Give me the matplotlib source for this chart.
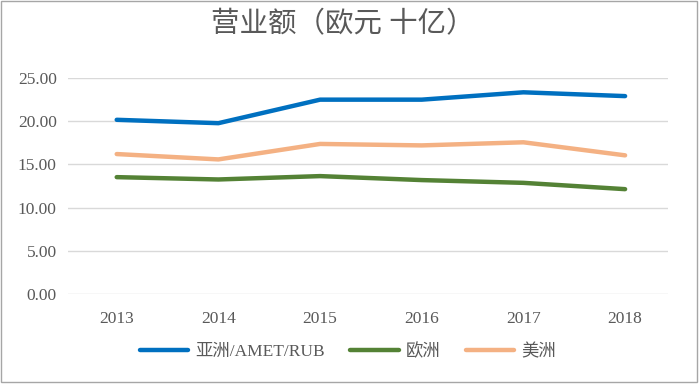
import numpy as np
import matplotlib
matplotlib.use("Agg")
import matplotlib.pyplot as plt
from matplotlib.patches import Rectangle

plt.rcParams['font.family'] = ['Liberation Serif', 'Noto Sans CJK SC']

years = ['2013', '2014', '2015', '2016', '2017', '2018']
asia = [20.16, 19.77, 22.49, 22.49, 23.34, 22.90]
europe = [13.53, 13.26, 13.65, 13.19, 12.87, 12.14]
america = [16.20, 15.58, 17.37, 17.20, 17.56, 16.05]

series = [
    ('亚洲/AMET/RUB', asia, '#0070C0'),
    ('欧洲', europe, '#548235'),
    ('美洲', america, '#F4B183'),
]

fig = plt.figure(figsize=(7, 3.84), dpi=100)
ax = fig.add_axes([0.097, 0.234, 0.857, 0.563])

x = np.arange(len(years))
for name, vals, col in series:
    ax.plot(x, vals, color=col, lw=3.2, label=name, solid_capstyle='round')

ax.set_ylim(0, 25)
ax.set_yticks(np.arange(0, 26, 5))
ax.set_yticklabels(['%.2f' % v for v in np.arange(0, 26, 5)])
ax.set_xlim(-0.48, 5.42)
ax.set_xticks(x)
ax.set_xticklabels(years)
ax.grid(axis='y', color='#D9D9D9', lw=1)
ax.set_axisbelow(True)
for s in ax.spines.values():
    s.set_visible(False)
ax.tick_params(length=0, labelsize=12.5, colors='#595959', pad=8)
ax.tick_params(axis='x', pad=12)

fig.text(0.49, 0.935, '营业额（欧元 十亿）', ha='center', va='center',
         fontsize=20.5, color='#595959')

fig.legend(loc='center', bbox_to_anchor=(0.497, 0.083), ncol=3, frameon=False,
           fontsize=12.5, handlelength=2.8, columnspacing=1.45, handletextpad=0.4,
           labelcolor='#595959')

fig.patches.append(Rectangle((0.001, 0.004), 0.994, 0.994, transform=fig.transFigure,
                             fill=False, edgecolor='#A6A6A6', lw=1))

fig.savefig('out.png', dpi=100)
